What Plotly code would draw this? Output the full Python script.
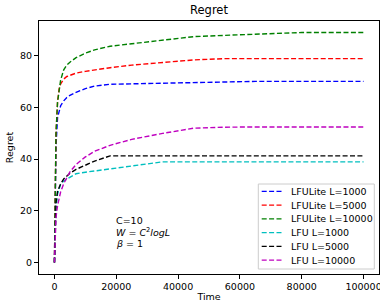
import plotly.graph_objects as go

time = [0, 250, 500, 1000, 1500, 2000, 3000, 4000, 5000, 7000, 10000, 13000,
        18000, 25000, 35000, 45000, 55000, 65000, 80000, 100000]

lfulite_1000 = [0, 30, 45, 56, 59, 60.6, 62.5, 63.8, 64.6, 65.8, 67.2, 68.2,
                68.9, 69.1, 69.3, 69.6, 70.0, 70.0, 70.0, 70.0]
lfulite_5000 = [0, 35, 50, 62, 67, 69, 70.9, 71.9, 72.4, 73.2, 73.9, 74.5,
                75.3, 76.3, 77.4, 78.3, 78.8, 78.8, 78.8, 78.8]
lfulite_10000 = [0, 35, 50, 62, 67, 70.5, 74.5, 76.3, 77.4, 79.2, 80.9, 82.2,
                 83.6, 84.6, 86.0, 87.3, 87.8, 88.3, 88.9, 88.9]
lfu_1000 = [0, 15, 21, 26.5, 28.8, 30.2, 31.5, 32.2, 33.0, 34.3, 34.9, 35.4,
            36.2, 37.4, 38.9, 38.9, 38.9, 38.9, 38.9, 38.9]
lfu_5000 = [0, 17, 23, 27.5, 29.2, 30.4, 32.3, 33.5, 34.5, 36.0, 37.6, 39.2,
            41.2, 41.2, 41.2, 41.2, 41.2, 41.2, 41.2, 41.2]
lfu_10000 = [0, 12, 17.5, 22, 25.5, 27.3, 30.5, 33.0, 35.0, 37.9, 40.8, 43.0,
             45.3, 47.6, 49.9, 51.9, 52.3, 52.4, 52.4, 52.4]

series_names = ["LFULite L=1000", "LFULite L=5000", "LFULite L=10000",
                "LFU L=1000", "LFU L=5000", "LFU L=10000"]
series_values = [lfulite_1000, lfulite_5000, lfulite_10000,
                 lfu_1000, lfu_5000, lfu_10000]
series_colors = ["#0000ff", "#ff0000", "#008000", "#00bfbf", "#000000", "#bf00bf"]

x_ticks = [0, 20000, 40000, 60000, 80000, 100000]
y_ticks = [0, 20, 40, 60, 80]

FONT = "DejaVu Sans"
DASH = "5px,2.4px"
W, H = 380, 302
ML, MR, MT, MB = 39, 1, 21, 28
PW, PH = W - ML - MR, H - MT - MB


def px_x(p):
    return (p - ML) / PW


def px_y(p):
    return (H - MB - p) / PH


fig = go.Figure()
for name, vals, col in zip(series_names, series_values, series_colors):
    fig.add_trace(go.Scatter(
        x=time, y=vals, mode="lines", name=name, showlegend=False,
        line=dict(color=col, width=1.4, dash=DASH),
    ))

axis_common = dict(
    showgrid=False, zeroline=False, showline=True, linecolor="black",
    linewidth=1, mirror=True, ticks="outside", ticklen=4, tickwidth=1,
    tickcolor="black", tickfont=dict(family=FONT, size=9.5, color="black"),
    automargin=False, ticklabeloverflow="allow",
)

fig.update_layout(
    width=W, height=H,
    margin=dict(l=ML, r=MR, t=MT, b=MB),
    paper_bgcolor="white", plot_bgcolor="white",
    font=dict(family=FONT, color="black"),
    title=dict(text="Regret", x=209 / W, xanchor="center",
               y=1 - 10 / H, yanchor="middle",
               font=dict(family=FONT, size=11.5, color="black")),
    xaxis=dict(range=[-5000, 105000], tickvals=x_ticks,
               ticktext=[str(v) for v in x_ticks],
               title=dict(text="Time", font=dict(family=FONT, size=9.5), standoff=2),
               **axis_common),
    yaxis=dict(range=[-4.45, 93.35], tickvals=y_ticks,
               ticktext=[str(v) for v in y_ticks],
               title=dict(text="Regret", font=dict(family=FONT, size=9.5), standoff=4),
               **axis_common),
    showlegend=False,
)

# Legend box (drawn to match the reference's compact legend)
fig.add_shape(type="rect", xref="paper", yref="paper",
              x0=px_x(258.3), x1=px_x(374.3), y0=px_y(269), y1=px_y(184),
              line=dict(color="#cccccc", width=1),
              fillcolor="rgba(255,255,255,0.8)", layer="above")
row0, row_gap = 191.4, 13.75
for i, (name, col) in enumerate(zip(series_names, series_colors)):
    yc = row0 + i * row_gap
    fig.add_shape(type="line", xref="paper", yref="paper",
                  x0=px_x(261.7), x1=px_x(281.7), y0=px_y(yc), y1=px_y(yc),
                  line=dict(color=col, width=1.4, dash=DASH), layer="above")
    fig.add_annotation(x=px_x(289.3), y=px_y(yc), xref="paper", yref="paper",
                       text=name, showarrow=False, xanchor="left",
                       yanchor="middle",
                       font=dict(family=FONT, size=9.5, color="black"))

ann_x = 20000
ann_lines = [("C=10", 16.3),
             ("<i>W</i> = <i>C</i><sup>2</sup><i>logL</i>", 11.8),
             ("<i>β</i> = 1", 7.2)]
for txt, yv in ann_lines:
    fig.add_annotation(x=ann_x, y=yv, xref="x", yref="y", text=txt,
                       showarrow=False, xanchor="left", yanchor="middle",
                       xshift=-2,
                       font=dict(family=FONT, size=9.5, color="black"))

fig.write_html(
    "out.html",
    config={"displayModeBar": False},
    post_script="document.body.style.margin='0';document.body.style.padding='0';",
)
